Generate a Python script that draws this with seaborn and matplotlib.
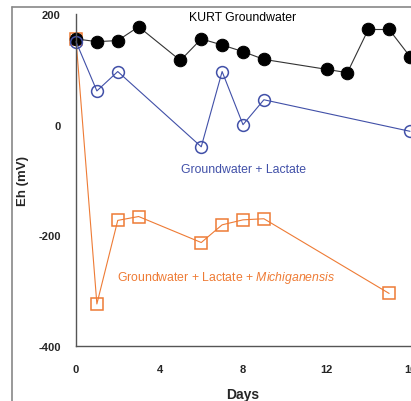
import numpy as np
import pandas as pd
import matplotlib
matplotlib.use('Agg')
import matplotlib.pyplot as plt
from matplotlib.lines import Line2D
from matplotlib.ticker import MultipleLocator
import seaborn as sns

# Eh readings (mV)
kurt_days = [0, 1, 2, 3, 5, 6, 7, 8, 9, 12, 13, 14, 15, 16]
kurt_eh = [155, 150, 152, 177, 116, 155, 144, 132, 118, 100, 94, 172, 172, 123]

lact_days = [0, 1, 2, 6, 7, 8, 9, 16]
lact_eh = [150, 61, 96, -40, 96, 0, 45, -12]

mich_days = [0, 1, 2, 3, 6, 7, 8, 9, 15]
mich_eh = [154, -324, -173, -166, -213, -181, -172, -170, -305]

x_ticks = [0, 4, 8, 12, 16]
y_ticks = [200, 0, -200, -400]

blue = '#4150A8'
orange = '#EE7B35'
axis_gray = '#555555'

sns.set_style('white')
plt.rcParams['font.family'] = ['Liberation Sans', 'DejaVu Sans']
plt.rcParams['axes.unicode_minus'] = False
plt.rcParams['mathtext.fontset'] = 'custom'
plt.rcParams['mathtext.rm'] = 'Liberation Sans'
plt.rcParams['mathtext.it'] = 'Liberation Sans:italic'

fig = plt.figure(figsize=(4.11, 4.02), dpi=100)
ax = fig.add_axes([76 / 411, 1 - 347 / 402, 334 / 411, 332 / 402])

df_mich = pd.DataFrame({'days': mich_days, 'eh': mich_eh})
df_kurt = pd.DataFrame({'days': kurt_days, 'eh': kurt_eh})
df_lact = pd.DataFrame({'days': lact_days, 'eh': lact_eh})

sns.lineplot(data=df_mich, x='days', y='eh', ax=ax, color=orange, lw=0.8,
             marker='s', markersize=8.5, markerfacecolor='none',
             markeredgecolor=orange, markeredgewidth=1.1, sort=False, clip_on=False)
sns.lineplot(data=df_kurt, x='days', y='eh', ax=ax, color='#333333', lw=0.8,
             marker='o', markersize=9, markerfacecolor='black',
             markeredgecolor='black', sort=False, clip_on=False)
sns.lineplot(data=df_lact, x='days', y='eh', ax=ax, color=blue, lw=0.8,
             marker='o', markersize=8.5, markerfacecolor='none',
             markeredgecolor=blue, markeredgewidth=1.1, sort=False, clip_on=False)

ax.set_xlim(0, 16)
ax.set_ylim(-400, 200)
ax.set_xticks(x_ticks)
ax.set_yticks(y_ticks)
ax.xaxis.set_minor_locator(MultipleLocator(2))
ax.yaxis.set_minor_locator(MultipleLocator(100))
ax.tick_params(axis='both', which='major', direction='out', length=8, width=1,
               color=axis_gray, labelsize=8, pad=3)
ax.tick_params(axis='x', which='major', pad=5)
ax.tick_params(axis='both', which='minor', direction='out', length=3.5, width=1,
               color=axis_gray)
for lbl in ax.get_xticklabels() + ax.get_yticklabels():
    lbl.set_fontweight('bold')

sns.despine(ax=ax)
for s in ['left', 'bottom']:
    ax.spines[s].set_color(axis_gray)
    ax.spines[s].set_linewidth(1)

ax.set_xlabel('Days', fontsize=10, fontweight='bold')
ax.set_ylabel('Eh (mV)', fontsize=9.5, fontweight='bold')
ax.xaxis.set_label_coords(0.5, -0.122)
ax.yaxis.set_label_coords(-0.14, 0.5)

ax.text(8.0, 194, 'KURT Groundwater', ha='center', va='center',
        fontsize=8.8, color='black')
ax.text(8.0, -81, 'Groundwater + Lactate', ha='center', va='center',
        fontsize=8.8, color=blue)
ax.text(7.2, -275, r'Groundwater + Lactate + $\it{Michiganensis}$',
        ha='center', va='center', fontsize=8.8, color=orange)

# partial frame around the figure panel
fig.add_artist(Line2D([12 / 411, 1], [1 - 8 / 402] * 2, color='#888888', lw=1.2))
fig.add_artist(Line2D([12 / 411] * 2, [0, 1 - 8 / 402], color='#888888', lw=1.2))

fig.savefig('out.png', dpi=100)
